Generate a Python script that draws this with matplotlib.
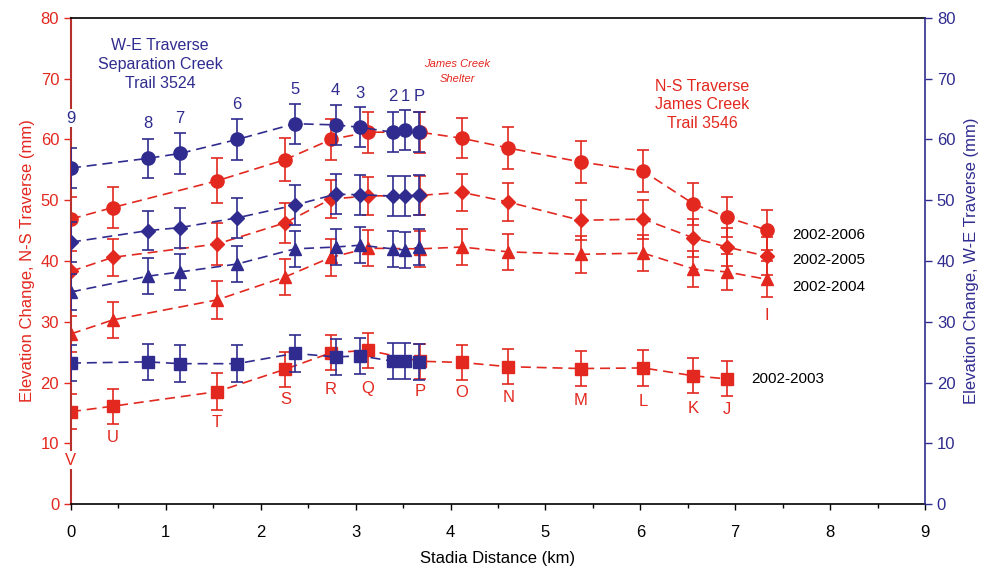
import matplotlib
matplotlib.use('Agg')
import matplotlib.pyplot as plt

plt.rcParams['font.family'] = ['Liberation Sans', 'DejaVu Sans']

RED = '#e2281f'
BLUE = '#302c8f'

# N-S traverse, James Creek Trail 3546 (stations V..I)
ns_labels = ['V', 'U', 'T', 'S', 'R', 'Q', 'P', 'O', 'N', 'M', 'L', 'K', 'J', 'I']
ns_dist = [0.0, 0.44, 1.54, 2.26, 2.74, 3.13, 3.68, 4.12, 4.61, 5.37, 6.03, 6.56, 6.91, 7.33]
ns_2006 = [46.9, 48.8, 53.2, 56.7, 60.0, 61.2, 61.2, 60.2, 58.6, 56.3, 54.8, 49.4, 47.2, 45.1]
ns_2005 = [38.3, 40.6, 42.8, 46.3, 50.2, 50.7, 50.8, 51.3, 49.7, 46.7, 46.9, 43.8, 42.3, 40.8]
ns_2004 = [28.0, 30.3, 33.6, 37.4, 40.6, 42.1, 42.0, 42.3, 41.5, 41.1, 41.3, 38.7, 38.2, 37.0]
ns_2003 = [15.2, 16.1, 18.5, 22.2, 24.9, 25.3, 23.5, 23.3, 22.6, 22.3, 22.4, 21.1, 20.6]
ns_err_2006 = [3.6, 3.4, 3.7, 3.5, 3.3, 3.4, 3.4, 3.3, 3.4, 3.5, 3.5, 3.4, 3.3, 3.3]
ns_err_2005 = [3.3, 3.1, 3.5, 3.3, 3.2, 3.2, 3.2, 3.1, 3.1, 3.3, 3.2, 3.1, 3.1, 3.1]
ns_err_2004 = [3.0, 2.9, 3.1, 3.0, 3.0, 3.0, 3.0, 2.9, 2.9, 3.0, 3.0, 3.0, 3.0, 3.0]
ns_err_2003 = [2.9, 2.9, 3.1, 2.9, 2.9, 2.9, 2.9, 2.9, 2.9, 2.9, 2.9, 2.9, 2.9]

# W-E traverse, Separation Creek Trail 3524 (stations 9..1, P)
we_labels = ['9', '8', '7', '6', '5', '4', '3', '2', '1', 'P']
we_dist = [0.0, 0.81, 1.15, 1.75, 2.36, 2.79, 3.05, 3.39, 3.52, 3.67]
we_2006 = [55.3, 56.9, 57.7, 60.0, 62.6, 62.4, 62.0, 61.2, 61.5, 61.2]
we_2005 = [43.1, 45.0, 45.5, 47.1, 49.2, 51.0, 50.9, 50.7, 50.7, 50.9]
we_2004 = [34.9, 37.5, 38.2, 39.5, 42.0, 42.3, 42.6, 42.0, 41.8, 42.3]
we_2003 = [23.2, 23.4, 23.1, 23.1, 24.8, 24.2, 24.4, 23.5, 23.5, 23.4]
we_err = [3.3, 3.2, 3.3, 3.3, 3.3, 3.3, 3.3, 3.3, 3.3, 3.3]
we_err_low = [3.0, 3.0, 3.0, 3.0, 3.0, 3.0, 3.0, 3.0, 3.0, 3.0]

fig = plt.figure(figsize=(9.94, 5.69), dpi=100)
ax = fig.add_axes([0.0714, 0.1142, 0.8592, 0.8542])
ax2 = ax.twinx()


def series(a, x, y, err, color, marker, ms):
    a.errorbar(x[:len(y)], y, yerr=err[:len(y)], color=color, marker=marker,
               markersize=ms, linestyle=(0, (6, 3.5)), linewidth=1.2,
               elinewidth=1.2, capsize=4, capthick=1.2)


series(ax, ns_dist, ns_2006, ns_err_2006, RED, 'o', 9.5)
series(ax, ns_dist, ns_2005, ns_err_2005, RED, 'D', 7)
series(ax, ns_dist, ns_2004, ns_err_2004, RED, '^', 9)
series(ax, ns_dist, ns_2003, ns_err_2003, RED, 's', 9)

series(ax2, we_dist, we_2006, we_err, BLUE, 'o', 9.5)
series(ax2, we_dist, we_2005, we_err, BLUE, 'D', 7)
series(ax2, we_dist, we_2004, we_err_low, BLUE, '^', 9)
series(ax2, we_dist, we_2003, we_err_low, BLUE, 's', 9)

for a in (ax, ax2):
    a.set_xlim(0, 9)
    a.set_ylim(0, 80)
    a.set_yticks(range(0, 81, 10))

ax.set_xticks(range(0, 10))
ax.set_xticks([i + 0.5 for i in range(9)], minor=True)
ax.tick_params(axis='x', which='major', direction='out', length=4, width=1,
               labelsize=12, pad=11, colors='black')
ax.tick_params(axis='x', which='minor', direction='out', length=3, width=1)
ax.tick_params(axis='y', direction='out', length=5, width=1, labelsize=12,
               colors=RED)
ax2.tick_params(axis='y', direction='out', length=5, width=1, labelsize=12,
                colors=BLUE)

ax.spines['left'].set_color('#b8302c')
ax.spines['left'].set_linewidth(1.5)
ax.spines['right'].set_visible(False)
ax2.spines['left'].set_visible(False)
ax2.spines['top'].set_visible(False)
ax2.spines['bottom'].set_visible(False)
ax2.spines['right'].set_color(BLUE)
ax2.spines['right'].set_linewidth(1.2)
ax.spines['top'].set_linewidth(1.2)
ax.spines['bottom'].set_linewidth(1.2)

ax.set_xlabel('Stadia Distance (km)', fontsize=12, labelpad=8)
ax.set_ylabel('Elevation Change, N-S Traverse (mm)', fontsize=12, color=RED,
              labelpad=4)
ax2.set_ylabel('Elevation Change, W-E Traverse (mm)', fontsize=12, color=BLUE,
               labelpad=6)

# station letters below the N-S 2002-2003 points (I sits under the triangle)
ns_label_y = [7.2, 11.0, 13.5, 17.2, 18.8, 19.0, 18.6, 18.3, 17.5, 17.0, 16.8, 15.8, 15.5, 31.0]
for x, y, s in zip(ns_dist, ns_label_y, ns_labels):
    bbox = dict(facecolor='white', edgecolor='none', pad=1) if s == 'V' else None
    ax2.text(x, y, s, color=RED, fontsize=12, ha='center', va='center',
             bbox=bbox, zorder=5)

# station numbers above the W-E 2002-2006 points
we_label_y = [63.5, 62.7, 63.5, 65.8, 68.3, 68.0, 67.5, 67.0, 67.0, 67.0]
for x, y, s in zip(we_dist, we_label_y, we_labels):
    bbox = dict(facecolor='white', edgecolor='none', pad=1) if s == '9' else None
    ax2.text(x, y, s, color=BLUE, fontsize=12, ha='center', va='center',
             bbox=bbox, zorder=5)

ax2.text(0.94, 72.3, 'W-E Traverse\nSeparation Creek\nTrail 3524', color=BLUE,
         fontsize=11.5, ha='center', va='center', linespacing=1.32)
ax2.text(4.07, 71.2, 'James Creek\nShelter', color=RED, fontsize=8,
         style='italic', ha='center', va='center', linespacing=1.6)
ax2.text(6.65, 65.7, 'N-S Traverse\nJames Creek\nTrail 3546', color=RED,
         fontsize=11.5, ha='center', va='center', linespacing=1.32)

for y, s in [(44.2, '2002-2006'), (40.1, '2002-2005'), (35.8, '2002-2004')]:
    ax2.text(7.6, y, s, fontsize=11, ha='left', va='center')
ax2.text(7.17, 20.5, '2002-2003', fontsize=11, ha='left', va='center')

fig.savefig('out.png', dpi=100)
